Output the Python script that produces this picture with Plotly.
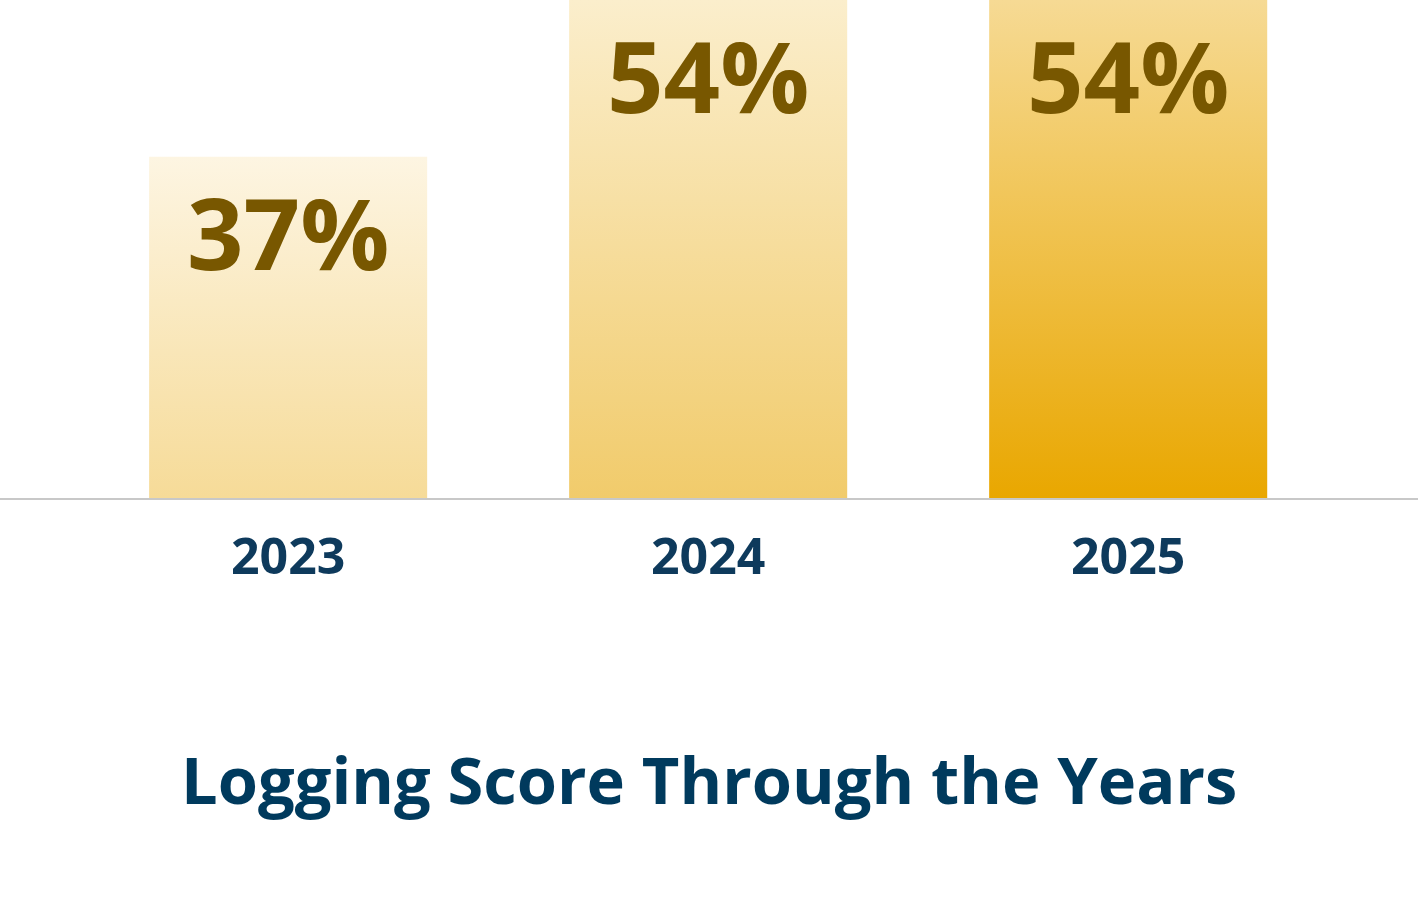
import plotly.graph_objects as go

# chart data
years = ["2023", "2024", "2025"]
scores = [37, 54, 54]
labels = ["37%", "54%", "54%"]

# gradient colours per bar (bottom, top)
bar_bottom = ["#f6db98", "#f1cb6b", "#e9a700"]
bar_top = ["#fdf5e2", "#fbeecc", "#f6da94"]

HALF_W = 0.331
FONT = "Open Sans"

fig = go.Figure()

for i, (yr, v) in enumerate(zip(years, scores)):
    fig.add_trace(go.Scatter(
        x=[i - HALF_W, i - HALF_W, i + HALF_W, i + HALF_W, i - HALF_W],
        y=[0, v, v, 0, 0],
        mode='lines',
        line=dict(width=0),
        fill='toself',
        fillgradient=dict(
            type='vertical',
            colorscale=[[0, bar_bottom[i]], [1, bar_top[i]]],
        ),
        hoverinfo='skip',
        name=yr,
        showlegend=False
    ))

    # value label inside the bar, near the top
    fig.add_annotation(
        x=i, y=v, text=labels[i],
        showarrow=False, yanchor='top', yshift=-5,
        font=dict(family=FONT, size=99, color='#785700', weight=700)
    )

fig.add_annotation(
    x=0.5, y=(904 - 779) / 904, xref='paper', yref='paper',
    text="Logging Score Through the Years",
    showarrow=False, yanchor='middle',
    font=dict(family=FONT, size=65, color='#003a5d', weight=700)
)

fig.update_layout(
    width=1418,
    height=904,
    margin=dict(l=0, r=0, t=0, b=0),
    paper_bgcolor='white',
    plot_bgcolor='white',
    xaxis=dict(
        range=[-0.686, 2.690],
        tickvals=list(range(len(years))),
        ticktext=years,
        showgrid=False,
        zeroline=False,
        showline=True,
        linecolor='#c8c8c8',
        linewidth=2,
        ticks='',
        ticklabelstandoff=14,
        tickfont=dict(family=FONT, size=50, color='#0e3a5c', weight=700),
        fixedrange=True
    ),
    yaxis=dict(
        domain=[(904 - 498) / 904, 1],
        range=[0, 54],
        visible=False,
        fixedrange=True
    )
)

# page body has a default margin; drop it so the figure fills the window
fig.write_html(
    "out.html",
    config={'displayModeBar': False},
    post_script="document.body.style.margin='0';"
)
